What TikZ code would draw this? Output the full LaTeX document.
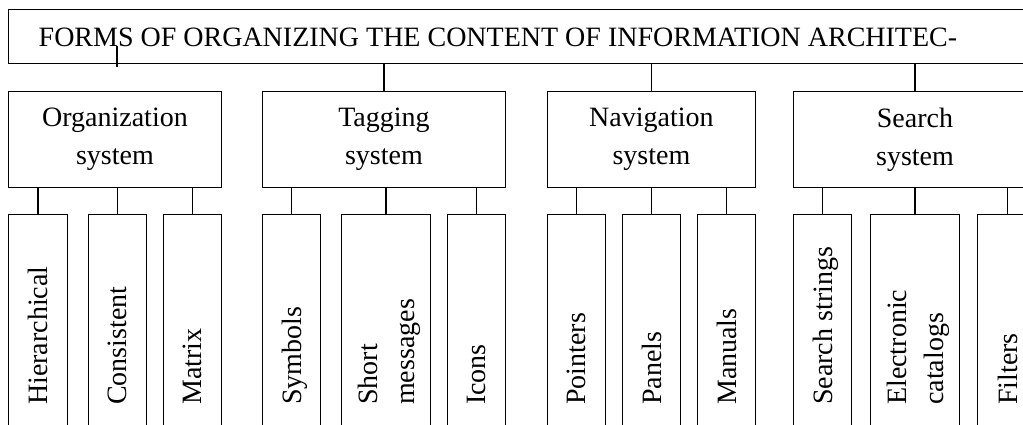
\documentclass[tikz,border=0pt]{standalone}
\usepackage{fontspec}
\setmainfont{Liberation Serif}
\begin{document}
\begin{tikzpicture}[x=1pt,y=-1pt,
  box/.style={draw, line width=0.9pt, inner sep=0pt, anchor=north west},
  conn/.style={line width=1.3pt},
  lbl/.style={font=\fontsize{28}{38}\selectfont, align=center},
  vlbl/.style={font=\fontsize{28}{37}\selectfont, align=left, rotate=90, anchor=west, inner sep=0pt, text depth=0pt}]
\useasboundingbox (0,0) rectangle (1023,425);
\clip (0,0) rectangle (1023,425);
% top
\node[box, minimum width=1040pt, minimum height=54pt] (top) at (8,9) {};
\node[lbl, inner sep=0pt] (title) at (498,37) {FORMS OF ORGANIZING THE CONTENT OF INFORMATION ARCHITEC-};
% level 2
\node[box, lbl, minimum width=213pt, minimum height=96pt] (org) at (8,91) {Organization\\system};
\node[box, lbl, minimum width=243pt, minimum height=96pt] (tag) at (262,91) {Tagging\\system};
\node[box, lbl, minimum width=208pt, minimum height=96pt] (nav) at (547,91) {Navigation\\system};
\node[box, minimum width=244pt, minimum height=96pt] (sea) at (793,91) {};
\node[lbl, inner sep=0pt] at (sea.center -| 915,0) {Search\\system};
% level 3
\node[box, minimum width=59pt, minimum height=240pt] (hie) at (8,214) {};
\node[box, minimum width=58pt, minimum height=240pt] (con) at (88,214) {};
\node[box, minimum width=58pt, minimum height=240pt] (mat) at (163,214) {};
\node[box, minimum width=58pt, minimum height=240pt] (sym) at (262,214) {};
\node[box, minimum width=89pt, minimum height=240pt] (sho) at (341,214) {};
\node[box, minimum width=58pt, minimum height=240pt] (ico) at (447,214) {};
\node[box, minimum width=58pt, minimum height=240pt] (poi) at (547,214) {};
\node[box, minimum width=58pt, minimum height=240pt] (pan) at (622,214) {};
\node[box, minimum width=58pt, minimum height=240pt] (man) at (697,214) {};
\node[box, minimum width=58pt, minimum height=240pt] (sst) at (793,214) {};
\node[box, minimum width=89pt, minimum height=240pt] (ele) at (870,214) {};
\node[box, minimum width=60pt, minimum height=240pt] (fil) at (977,214) {};
% vertical labels
\coordinate (base) at (0,405);
\node[vlbl] at (hie |- base) {Hierarchical};
\node[vlbl] at (con |- base) {Consistent};
\node[vlbl] at (mat |- base) {Matrix};
\node[vlbl] at (sym |- base) {Symbols};
\node[vlbl] at (sho |- base) {Short\\messages};
\node[vlbl] at (ico |- base) {Icons};
\node[vlbl] at (poi |- base) {Pointers};
\node[vlbl] at (pan |- base) {Panels};
\node[vlbl] at (man |- base) {Manuals};
\node[vlbl] at (sst |- base) {Search strings};
\node[vlbl] at (ele |- base) {Electronic\\catalogs};
\node[vlbl] at (fil |- base) {Filters};
% connectors top -> level 2
\coordinate (t1) at (117,46);
\coordinate (t2) at (117,67);
\draw[conn] (t1) -- (t2);
\draw[conn] (tag.north) -- (tag.north |- top.south);
\draw[conn] (nav.north) -- (nav.north |- top.south);
\draw[conn] (sea.north -| 915,0) -- (top.south -| 915,0);
% connectors level 2 -> level 3
\foreach \c/\p in {hie/org,con/org,mat/org,sym/tag,sho/tag,ico/tag,poi/nav,pan/nav,man/nav,sst/sea,ele/sea,fil/sea}
  \draw[conn] (\c.north) -- (\c.north |- \p.south);
\end{tikzpicture}
\end{document}
